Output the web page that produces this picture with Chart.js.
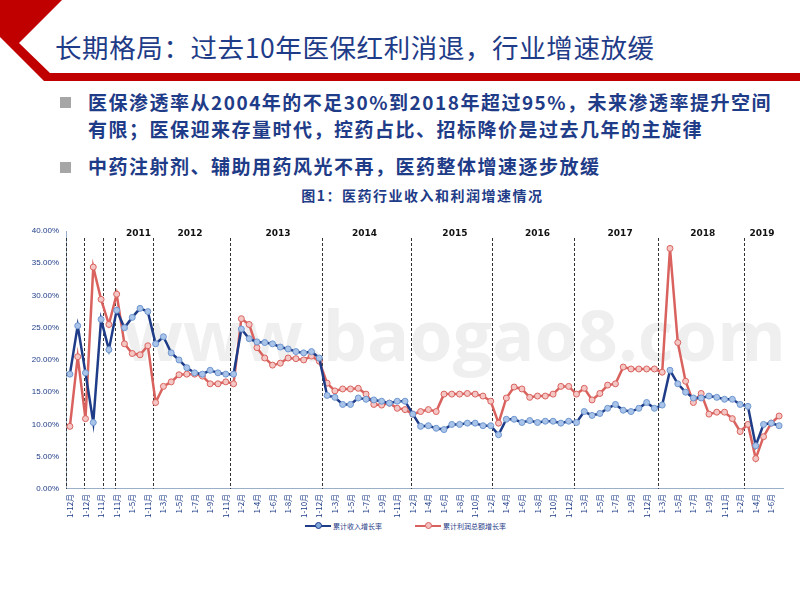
<!DOCTYPE html>
<html><head><meta charset="utf-8">
<script src="https://cdn.jsdelivr.net/npm/chart.js@4/dist/chart.umd.min.js"></script>
<style>
body{margin:0;width:800px;height:600px;background:#fff;font-family:"Noto Sans CJK SC",sans-serif;position:relative;overflow:hidden}
#title{position:absolute;left:55px;top:27px;font-size:26.5px;color:#1f3c88;letter-spacing:0.6px}
.b{position:absolute;left:88px;font-size:19px;font-weight:bold;color:#1f3c88;line-height:27px;letter-spacing:1.5px;white-space:nowrap}
.sq{position:absolute;left:60px;width:11px;height:11px;background:#a6a6a6}
#ct{position:absolute;left:0;width:800px;top:185px;text-align:center;font-size:14px;font-weight:bold;color:#1f3c88;padding-left:45px;box-sizing:border-box;letter-spacing:1.5px}
#wrap{position:absolute;left:0;top:215px;width:800px;height:305px}
#leg{position:absolute;top:521px;left:0;width:800px;font-size:7px;color:#1f3c88}
.li{position:absolute;display:flex;align-items:center}
.ln{width:26px;height:2px;position:relative;margin-right:2px}
.ln i{position:absolute;left:10px;top:-3px;width:5px;height:5px;border-radius:50%}
</style></head><body>
<svg width="800" height="90" style="position:absolute;left:0;top:0">
<polygon points="0,0 62,0 19,43 50,73 800,73 800,81 44,81 0,37" fill="#c00000"/>
</svg>
<div id="title">长期格局：过去10年医保红利消退，行业增速放缓</div>
<div class="sq" style="top:97px"></div>
<div class="b" style="top:88px">医保渗透率从2004年的不足30%到2018年超过95%，未来渗透率提升空间<br>有限；医保迎来存量时代，控药占比、招标降价是过去几年的主旋律</div>
<div class="sq" style="top:162px"></div>
<div class="b" style="top:152px">中药注射剂、辅助用药风光不再，医药整体增速逐步放缓</div>
<div id="ct">图1：医药行业收入和利润增速情况</div>
<div id="wrap"><canvas id="c"></canvas></div>
<div id="leg">
<div class="li" style="left:305px"><div class="ln" style="background:#1f3c88"><i style="background:#7fa6d9;border:1px solid #1f3c88"></i></div>累计收入增长率</div>
<div class="li" style="left:415px"><div class="ln" style="background:#d9625e"><i style="background:#f3c0bf;border:1px solid #d9625e"></i></div>累计利润总额增长率</div>
</div>
<script>
const labels = ["1-12月","1-12月","1-12月","1-12月","1-11月","1-12月","1-11月","1-3月","1-5月","1-8月","1-11月",
"1-2月","1-3月","1-4月","1-5月","1-6月","1-7月","1-8月","1-9月","1-10月","1-11月",
"1-12月","1-2月","1-3月","1-4月","1-5月","1-6月","1-7月","1-8月","1-9月","1-10月","1-11月","1-12月",
"1-2月","1-3月","1-4月","1-5月","1-6月","1-7月","1-8月","1-9月","1-10月","1-11月",
"1-12月","1-2月","1-3月","1-4月","1-5月","1-6月","1-7月","1-8月","1-9月","1-10月","1-12月",
"1-2月","1-3月","1-4月","1-5月","1-6月","1-7月","1-8月","1-9月","1-10月","1-11月",
"1-12月","1-2月","1-3月","1-4月","1-5月","1-6月","1-7月","1-8月","1-9月","1-10月","1-12月",
"1-2月","1-3月","1-4月","1-5月","1-6月","1-7月","1-8月","1-9月","1-10月","1-11月",
"1-12月","1-2月","1-3月","1-4月","1-5月","1-6月","1-7月"];
const revenueGrowth = [17.8,25.3,18.0,10.3,26.3,21.6,27.7,25.0,26.6,28.0,27.5,22.5,23.6,21.1,20.0,18.8,18.0,17.8,18.4,18.0,17.8,17.8,24.8,23.3,22.8,22.7,22.5,22.0,21.7,21.3,21.1,21.3,20.3,14.5,14.2,13.1,13.1,
14.1,13.9,13.8,13.6,13.3,13.6,13.6,11.6,9.7,9.8,9.4,9.2,10.0,10.0,10.2,10.2,9.8,9.8,8.4,10.8,10.8,10.3,10.6,10.3,10.5,10.5,10.2,10.5,
10.3,12.0,11.4,11.7,12.5,13.1,12.2,12.0,12.5,13.4,12.5,13.0,18.4,16.3,15.0,14.1,14.1,14.4,14.2,13.9,13.9,13.1,12.8,6.7,10.0,10.2,9.8];
const profitGrowth = [9.7,20.5,10.9,34.4,29.4,25.5,30.2,22.5,21.0,20.8,22.2,13.4,15.9,16.6,17.7,17.8,17.8,17.5,16.3,16.3,16.6,16.3,26.4,25.5,21.9,20.3,19.2,19.5,20.3,20.2,20.0,20.6,19.8,16.4,15.2,15.5,15.5,
15.6,14.7,13.1,13.0,13.3,12.5,12.3,11.6,12.0,12.3,12.0,14.7,14.7,14.7,14.8,14.7,14.4,13.6,10.2,14.1,15.8,15.5,14.2,14.4,14.4,14.7,15.9,15.9,
14.7,15.6,13.8,14.8,16.1,16.3,18.9,18.6,18.6,18.6,18.6,18.1,37.3,22.7,16.7,13.4,14.8,11.6,11.9,11.9,10.9,8.9,10.0,4.7,8.1,10.2,11.3];
const yearNames = ["2011","2012","2013","2014","2015","2016","2017","2018","2019"];
const yearPos = [8.8,15.4,26.7,37.8,49.4,60,70.6,81.2,88.8];
const dividers = [-0.5,1.8,4.2,5.8,10.6,20.6,32.3,43.8,54.2,64.7,75.5,86.5];

const deco = {
  id:'deco',
  beforeDatasetsDraw(ch){
    const c=ch.ctx,x=ch.scales.x,a=ch.chartArea;
    c.save();
    c.font='bold 70px "Open Sans",sans-serif';c.fillStyle='rgba(215,215,215,0.4)';c.textAlign='center';c.textBaseline='middle';
    c.fillText('www.baogao8.com',(a.left+a.right)/2+30,a.top+110);
    c.setLineDash([3,2]);c.strokeStyle='#333';c.lineWidth=1;
    dividers.forEach(d=>{const px=Math.round(x.getPixelForValue(d))+0.5;c.beginPath();c.moveTo(px,a.top+7);c.lineTo(px,a.bottom);c.stroke();});
    c.setLineDash([]);c.fillStyle='#111';c.font='bold 9px "DejaVu Sans",sans-serif';c.textBaseline='top';
    yearNames.forEach((n,i)=>c.fillText(n,x.getPixelForValue(yearPos[i]),a.top-2));
    c.restore();
  }
};
new Chart(document.getElementById('c'),{
  type:'line',
  data:{labels,datasets:[
    {label:'累计收入增长率',data:revenueGrowth,borderColor:'#1f3c88',borderWidth:2.5,pointRadius:3,pointBackgroundColor:'#a9c4e8',pointBorderColor:'#6f97d0',pointBorderWidth:1,tension:0},
    {label:'累计利润总额增长率',data:profitGrowth,borderColor:'#d9625e',borderWidth:2.5,pointRadius:3,pointBackgroundColor:'#f4c6c4',pointBorderColor:'#d9625e',pointBorderWidth:1,tension:0}
  ]},
  options:{responsive:true,maintainAspectRatio:false,animation:false,
    layout:{padding:{top:16,right:17,left:0,bottom:0}},
    plugins:{legend:{display:false},tooltip:{enabled:false}},
    scales:{
      x:{offset:true,grid:{display:false,drawTicks:true,tickLength:3,color:'#9ab0c8'},border:{color:'#9ab0c8'},
         ticks:{autoSkip:false,minRotation:90,maxRotation:90,font:{size:8,family:'"Noto Sans CJK SC"'},color:'#1f3c88',padding:2,
           callback:(v,i)=>i%2===0?labels[i]:''}},
      y:{min:0,max:40,afterFit:s=>{s.width=66;},grid:{display:false,tickLength:4},border:{color:'#9ab0c8'},
         ticks:{stepSize:5,font:{size:8},color:'#1f3c88',callback:v=>v.toFixed(2)+'%'}}
    }
  },
  plugins:[deco]
});
</script>
</body></html>
